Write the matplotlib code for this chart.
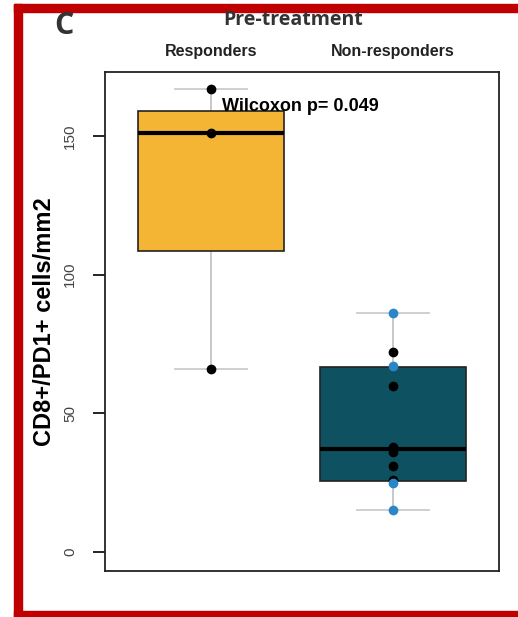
import matplotlib.pyplot as plt
from matplotlib.patches import Rectangle

groups = ["Responders", "Non-responders"]
box_colors = ["#F4B434", "#0E5262"]

# box statistics
q1 = [108.5, 25.7]
med = [151, 37]
q3 = [159, 66.7]
whislo = [66, 15]
whishi = [167, 86]

# individual points per group
black_pts = [[66, 151, 167], [72, 60, 38, 36, 31, 26]]
blue_pts = [[], [86, 67, 25, 15]]

yticks = [0, 50, 100, 150]

plt.rcParams['font.family'] = ['Liberation Sans', 'DejaVu Sans']

fig = plt.figure(figsize=(5.18, 6.17), dpi=100)
ax = fig.add_axes([105/518, 1-571/617, 394/518, 499/617])

stats = []
for i in range(len(groups)):
    stats.append({'q1': q1[i], 'med': med[i], 'q3': q3[i],
                  'whislo': whislo[i], 'whishi': whishi[i], 'fliers': []})

bp = ax.bxp(stats, positions=[1, 2], widths=0.8, patch_artist=True,
            showfliers=False,
            boxprops=dict(edgecolor='#222222', linewidth=1.2),
            medianprops=dict(color='black', linewidth=3),
            whiskerprops=dict(color='#c4c4c4', linewidth=1.3),
            capprops=dict(color='#cccccc', linewidth=1.3),
            capwidths=0.4, zorder=2)
for patch, c in zip(bp['boxes'], box_colors):
    patch.set_facecolor(c)
    patch.set_zorder(2)
for ln in bp['whiskers'] + bp['caps']:
    ln.set_zorder(1)

for i in range(len(groups)):
    ax.plot([i+1]*len(black_pts[i]), black_pts[i], 'o', color='black',
            markersize=6, zorder=4)
    if blue_pts[i]:
        ax.plot([i+1]*len(blue_pts[i]), blue_pts[i], 'o', color='#2b86c8',
                markersize=6, zorder=5)

ax.set_xlim(0.418, 2.582)
ax.set_ylim(-6.8, 173)
ax.set_xticks([])
ax.set_yticks(yticks)
ax.set_yticklabels([str(t) for t in yticks], rotation=90, va='center',
                   color='#444444', fontsize=11)
ax.tick_params(axis='y', length=9, width=1.2, pad=11)
for s in ax.spines.values():
    s.set_linewidth(1.3)
    s.set_color('#222222')

ax.set_ylabel("CD8+/PD1+ cells/mm2", fontsize=17, fontweight='bold')
ax.yaxis.set_label_coords(-0.125, 0.5)

ax.text(1.06, 160.5, "Wilcoxon p= 0.049", fontsize=13, fontweight='bold',
        ha='left', va='center', zorder=6)

for i, g in enumerate(groups):
    ax.text(i+1, 180.5, g, fontsize=11.5, fontweight='bold', ha='center',
            va='center', color='#222222')

fig.text(293/518, 1-20/617, "Pre-treatment", fontsize=14, fontweight='bold',
         ha='center', va='center', color='#333333', family='Open Sans')
fig.text(64/518, 1-26/617, "C", fontsize=22, fontweight='bold',
         ha='center', va='center', color='#333333', family='Open Sans')

# red frame around the panel
red = '#C00000'
fig.patches.append(Rectangle((14/518, 0), 8/518, 1-4/617, transform=fig.transFigure,
                             color=red, zorder=0))
fig.patches.append(Rectangle((14/518, 1-12/617), 1, 8/617, transform=fig.transFigure,
                             color=red, zorder=0))
fig.patches.append(Rectangle((14/518, 0), 1, 6/617, transform=fig.transFigure,
                             color=red, zorder=0))

fig.savefig("out.png", dpi=100)
